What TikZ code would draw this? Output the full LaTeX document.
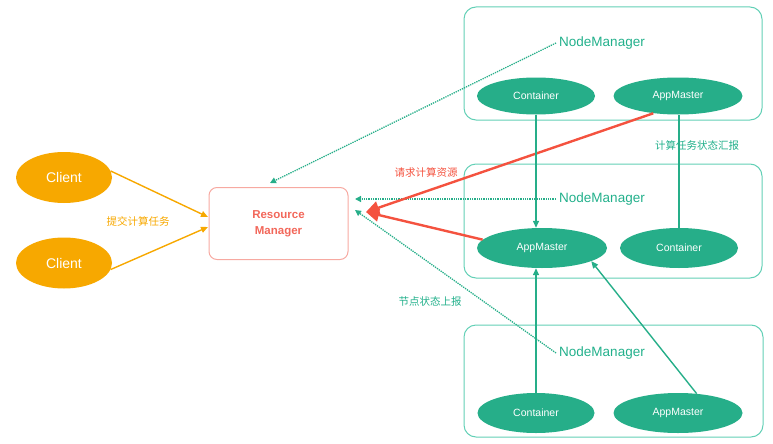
\documentclass[tikz,border=0pt]{standalone}
\usepackage{fontspec}
\setmainfont{Liberation Sans}
\newfontfamily\cjk{Noto Sans CJK SC}
\usetikzlibrary{shapes.geometric,arrows.meta}
\definecolor{tealF}{HTML}{26AE89}
\definecolor{tealL}{HTML}{62D0B6}
\definecolor{tealT}{HTML}{22B08B}
\definecolor{orangeC}{HTML}{F7A800}
\definecolor{redA}{HTML}{F4523F}
\definecolor{rmText}{HTML}{F2675A}
\definecolor{rmLine}{HTML}{F7A9A1}
\tikzset{
  client/.style={ellipse, fill=orangeC, minimum width=96pt, minimum height=51pt, inner sep=0pt, text=white, font=\fontsize{14}{16}\selectfont},
  pod/.style={ellipse, fill=tealF, inner sep=0pt, text=white, font=\fontsize{10.5}{12}\selectfont},
  nmbox/.style={draw=tealL, line width=1pt, rounded corners=12pt, inner sep=0pt},
  nmlabel/.style={text=tealT, font=\fontsize{13.5}{15}\selectfont, inner sep=3pt},
  rmbox/.style={draw=rmLine, line width=1pt, rounded corners=8pt, minimum width=139pt, minimum height=72pt, align=center, text=rmText, font=\bfseries\fontsize{11.5}{16}\selectfont},
  orangearrow/.style={draw=orangeC, line width=1.4pt, -{Triangle[length=7pt,width=6pt]}},
  dotarrow/.style={draw=tealF, line width=1.3pt, densely dotted, -{Triangle[length=6pt,width=6pt]}},
  redarrow/.style={draw=redA, line width=2.4pt, -{Triangle[length=13pt,width=13pt]}},
  tealarrow/.style={draw=tealF, line width=1.4pt, -{Triangle[length=7pt,width=6pt]}},
  tealline/.style={draw=tealF, line width=1.4pt},
  cjklabel/.style={font=\cjk\fontsize{10.5}{12}\selectfont, inner sep=0pt}
}
\begin{document}
\begin{tikzpicture}[x=1pt,y=-1pt]
\useasboundingbox (0,0) rectangle (773,444);
% NodeManager boxes
\node[nmbox, minimum width=298pt, minimum height=113pt] (nm1) at (613,63.5) {};
\node[nmbox, minimum width=298pt, minimum height=114pt] (nm2) at (613,221) {};
\node[nmbox, minimum width=299pt, minimum height=112pt] (nm3) at (613.5,381) {};
\node[nmlabel] (nml1) at (602,43) {NodeManager};
\node[nmlabel] (nml2) at (602,199) {NodeManager};
\node[nmlabel] (nml3) at (602,353) {NodeManager};
% pods
\node[pod, minimum width=118pt, minimum height=37pt] (c1) at (536,96) {Container};
\node[pod, minimum width=129pt, minimum height=37pt] (am1) at (678,96) {AppMaster};
\node[pod, minimum width=130pt, minimum height=40pt] (am2) at (542,248) {AppMaster};
\node[pod, minimum width=118pt, minimum height=40pt] (c2) at (679,248) {Container};
\node[pod, minimum width=117pt, minimum height=40pt] (c3) at (536,413) {Container};
\node[pod, minimum width=129pt, minimum height=40pt] (am3) at (678,413) {AppMaster};
% clients and RM
\node[client] (cl1) at (64,177.5) {Client};
\node[client] (cl2) at (64,263) {Client};
\node[rmbox] (rm) at (278.5,223.5) {Resource\\Manager};
% coordinates near RM
\coordinate (d1) at (270,183);
\coordinate (d2) at (355,199);
\coordinate (d3) at (355,210);
\coordinate (rq) at (366,212);
\coordinate (o1) at (208,217);
\coordinate (o2) at (208,227);
% labels
\node[cjklabel, text=orangeC] (lsub) at (138,221) {提交计算任务};
\node[cjklabel, text=redA] (lreq) at (426,172) {请求计算资源};
\node[cjklabel, text=tealT] (lrep) at (697,145) {计算任务状态汇报};
\node[cjklabel, text=tealT] (lnode) at (430,301) {节点状态上报};
% client arrows
\draw[orangearrow] (cl1.8) -- (o1);
\draw[orangearrow] (cl2.352) -- (o2);
% dotted heartbeats
\draw[dotarrow] (nml1.west) -- (d1);
\draw[dotarrow] (nml2.west) -- (d2);
\draw[dotarrow] (nml3.west) -- (d3);
% red resource requests
\draw[redarrow] (am1.215) -- (rq);
\draw[redarrow] (am2.172) -- (rq);
% teal solid
\draw[tealarrow] (c1.south) -- (c1.south |- am2.north);
\draw[tealarrow] (c3.north) -- (c3.north |- am2.south);
\draw[tealarrow] (am3.46) -- (am2.345);
\draw[tealline] (c2.north) -- (c2.north |- am1.south);
\end{tikzpicture}
\end{document}
